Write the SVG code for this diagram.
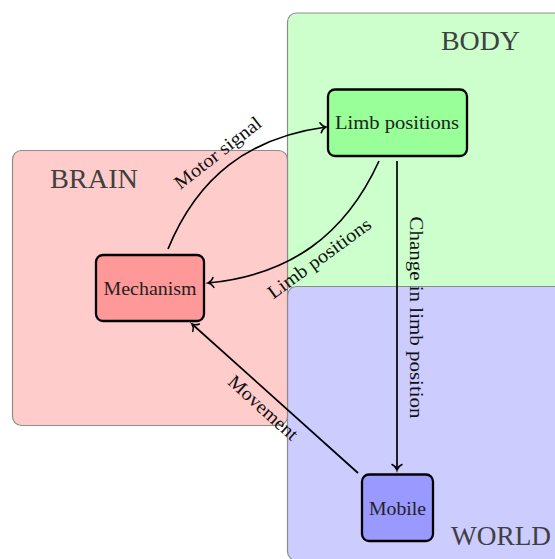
<svg xmlns="http://www.w3.org/2000/svg" width="555" height="559" viewBox="0 0 555 559">
<defs>
<marker id="arr" markerUnits="userSpaceOnUse" markerWidth="14" markerHeight="14" viewBox="-8 -7 10 14" refX="0" refY="0" orient="auto">
<path d="M-5.5,-5 C-4,-2 -1.5,-0.4 0,0 C-1.5,0.4 -4,2 -5.5,5" fill="none" stroke="#000" stroke-width="1.5" stroke-linecap="round"/>
</marker>
<style>
.region{stroke:#8c8c8c;stroke-width:1.2}
.rlabel{font-family:"Liberation Serif",serif;font-size:28px;fill:#404040}
.node rect{stroke:#000;stroke-width:2.3}
.ntext{font-family:"Liberation Serif",serif;font-size:19px;fill:#222;text-anchor:middle}
.edge{fill:none;stroke:#000;stroke-width:1.7;marker-end:url(#arr)}
.elabel{font-family:"Liberation Serif",serif;font-size:19px;fill:#111;text-anchor:middle}
</style>
</defs>
<g id="regions">
<g id="body-region"><rect class="region" x="287.5" y="13" width="276" height="276" rx="9" fill="#ccffcc"/><text class="rlabel" x="441" y="50" textLength="79" lengthAdjust="spacingAndGlyphs">BODY</text></g>
<g id="world-region"><rect class="region" x="287.5" y="286.5" width="276" height="274" rx="9" fill="#ccccff"/><text class="rlabel" x="451" y="545" textLength="100" lengthAdjust="spacingAndGlyphs">WORLD</text></g>
<g id="brain-region"><rect class="region" x="12.5" y="150.5" width="275" height="275" rx="9" fill="#ffcccc"/><text class="rlabel" x="50" y="188" textLength="88" lengthAdjust="spacingAndGlyphs">BRAIN</text></g>
</g>
<g id="connectors">
<path class="edge" d="M168,249 C197.6,176.8 248.7,137.5 326,127"/>
<text class="elabel" transform="translate(218,153) rotate(-38)" y="6" textLength="105" lengthAdjust="spacingAndGlyphs">Motor signal</text>
<path class="edge" d="M379,161 C345,235.6 289.6,275.1 208,283"/>
<text class="elabel" transform="translate(319.5,258.5) rotate(-36)" y="6" textLength="123" lengthAdjust="spacingAndGlyphs">Limb positions</text>
<path class="edge" d="M397,161 L397,470"/>
<text class="elabel" transform="translate(410,317.5) rotate(90)" x="0" y="0" textLength="202" lengthAdjust="spacingAndGlyphs">Change in limb position</text>
<path class="edge" d="M358,473 L192,324"/>
<text class="elabel" transform="translate(263,408) rotate(42)" y="6" textLength="87" lengthAdjust="spacingAndGlyphs">Movement</text>
</g>
<g id="mechanism" class="node"><rect x="96" y="255" width="108" height="66" rx="7" fill="#ff9999"/><text class="ntext" x="150" y="295" textLength="93" lengthAdjust="spacingAndGlyphs">Mechanism</text></g>
<g id="limb-positions" class="node"><rect x="328" y="89.5" width="139" height="66.5" rx="7" fill="#99ff99"/><text class="ntext" x="397" y="128.5" textLength="124" lengthAdjust="spacingAndGlyphs">Limb positions</text></g>
<g id="mobile" class="node"><rect x="362" y="474.5" width="71" height="66.5" rx="7" fill="#9999ff"/><text class="ntext" x="397.5" y="515" textLength="57" lengthAdjust="spacingAndGlyphs">Mobile</text></g>
</svg>
